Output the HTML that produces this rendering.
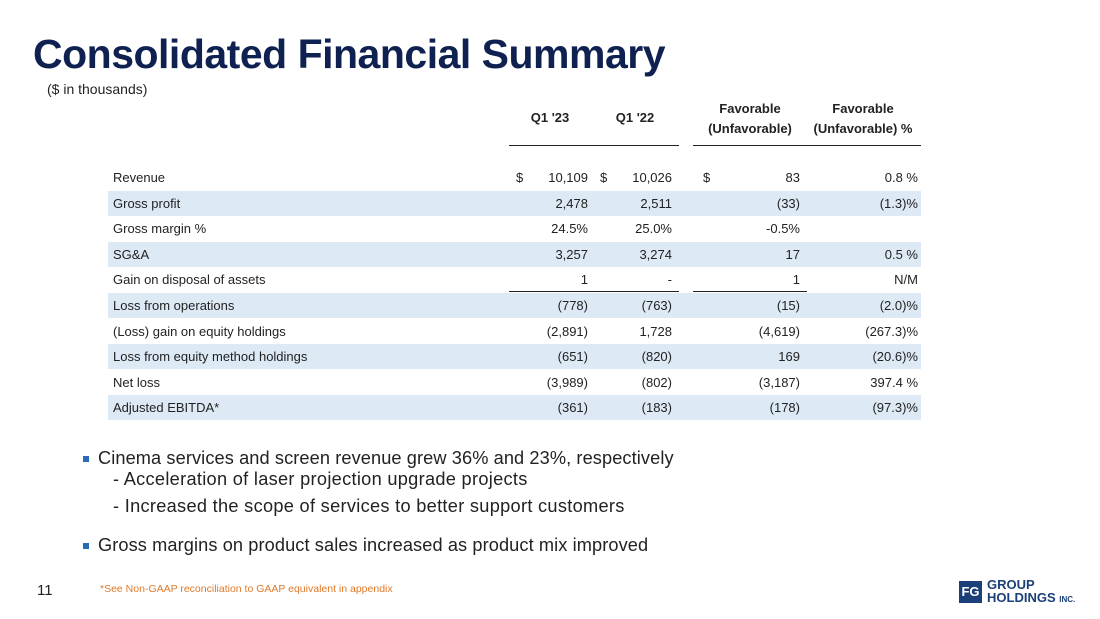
<!DOCTYPE html>
<html><head><meta charset="utf-8"><style>
body{margin:0;width:1100px;height:619px;background:#fff;position:relative;overflow:hidden;font-family:"Liberation Sans",sans-serif;color:#222}
.a{position:absolute;white-space:nowrap}
.row{position:absolute;left:108px;width:813px;height:25px;font-size:13px}
.row.s{background:#dde9f5}
.row span{position:absolute;top:5px}
.r{text-align:right}
.h{font-size:13px;font-weight:bold;text-align:center;position:absolute;line-height:20px}
.ln{position:absolute;height:1px;background:#222}
.b{font-size:18.2px;color:#222;letter-spacing:0.1px}
.sq{position:absolute;width:6px;height:6px;background:#2a6bb5}
</style></head><body>
<div class="a" style="left:33px;top:31px;font-size:41px;font-weight:bold;color:#0f2150;letter-spacing:-0.5px">Consolidated Financial Summary</div>
<div class="a" style="left:47px;top:81px;font-size:14px">($ in thousands)</div>
<div class="h" style="left:520px;top:108px;width:60px">Q1 '23</div>
<div class="h" style="left:605px;top:108px;width:60px">Q1 '22</div>
<div class="h" style="left:693px;top:99px;width:114px">Favorable<br>(Unfavorable)</div>
<div class="h" style="left:805px;top:99px;width:116px">Favorable<br>(Unfavorable) %</div>
<div class="ln" style="left:509px;top:145px;width:170px"></div>
<div class="ln" style="left:693px;top:145px;width:228px"></div>
<div class="ln" style="left:509px;top:291px;width:170px"></div>
<div class="ln" style="left:693px;top:291px;width:114px"></div>
<div id="tbl"></div>
<div class="sq" style="left:83px;top:456px"></div>
<div class="a b" style="left:98px;top:448px">Cinema services and screen revenue grew 36% and 23%, respectively</div>
<div class="a b" style="left:113px;top:469px;letter-spacing:0.3px">- Acceleration of laser projection upgrade projects</div>
<div class="a b" style="left:113px;top:496px;letter-spacing:0.3px">- Increased the scope of services to better support customers</div>
<div class="sq" style="left:83px;top:543px"></div>
<div class="a b" style="left:98px;top:535px">Gross margins on product sales increased as product mix improved</div>
<div class="a" style="left:37px;top:582px;font-size:15px">11</div>
<div class="a" style="left:100px;top:583px;font-size:10.5px;color:#e07a2a">*See Non-GAAP reconciliation to GAAP equivalent in appendix</div>
<div class="a" style="left:959px;top:578px">
<div style="position:absolute;left:0;top:3px;width:23px;height:22px;background:#1b3f78;color:#fff;font-weight:bold;font-size:13px;line-height:22px;text-align:center">FG</div>
<div style="position:absolute;left:28px;top:0;font-size:13px;font-weight:bold;color:#1b3f78;line-height:13px">GROUP<br>HOLDINGS <span style="font-size:8px">INC.</span></div></div>
<script>
const labels=["Revenue","Gross profit","Gross margin %","SG&A","Gain on disposal of assets","Loss from operations","(Loss) gain on equity holdings","Loss from equity method holdings","Net loss","Adjusted EBITDA*"];
const q123=["10,109","2,478","24.5%","3,257","1","(778)","(2,891)","(651)","(3,989)","(361)"];
const q122=["10,026","2,511","25.0%","3,274","-","(763)","1,728","(820)","(802)","(183)"];
const fav=["83","(33)","-0.5%","17","1","(15)","(4,619)","169","(3,187)","(178)"];
const favPct=["0.8 %","(1.3)%","","0.5 %","N/M","(2.0)%","(267.3)%","(20.6)%","397.4 %","(97.3)%"];
const t=document.getElementById('tbl');
labels.forEach((l,i)=>{
 const r=document.createElement('div');
 r.className='row'+(i%2?' s':'');
 r.style.top=(165+i*25.6)+'px';
 
 
 let h='<span style="left:5px">'+l.replace('&','&amp;')+'</span>';
 if(i==0){h+='<span style="left:408px">$</span><span style="left:492px">$</span><span style="left:595px">$</span>';}
 h+='<span class="r" style="right:333px">'+q123[i]+'</span>';
 h+='<span class="r" style="right:249px">'+q122[i]+'</span>';
 h+='<span class="r" style="right:121px">'+fav[i]+'</span>';
 h+='<span class="r" style="right:3px">'+favPct[i]+'</span>';
 r.innerHTML=h;t.appendChild(r);
});
</script>
</body></html>
